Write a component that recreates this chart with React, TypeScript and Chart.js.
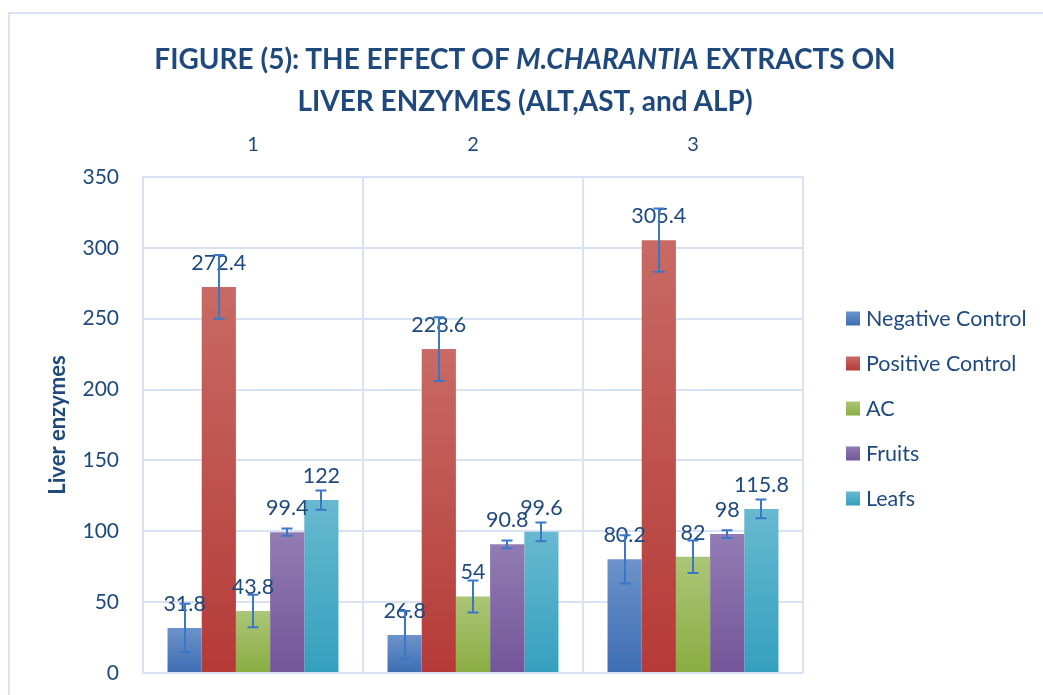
import React, { useEffect, useRef } from 'react';
import { Chart, registerables } from 'chart.js';

Chart.register(...registerables);

// ---------- data ----------
const categories = ['1', '2', '3'];
const seriesNames = ['Negative Control', 'Positive Control', 'AC', 'Fruits', 'Leafs'];
const negativeControl = [31.8, 26.8, 80.2];
const positiveControl = [272.4, 228.6, 305.4];
const acValues = [43.8, 54, 82];
const fruitsValues = [99.4, 90.8, 98];
const leafsValues = [122, 99.6, 115.8];
const negativeErr = [17, 17, 17];
const positiveErr = [22.5, 22.5, 22.3];
const acErr = [11.5, 11.3, 11.5];
const fruitsErr = [2.6, 2.7, 2.7];
const leafsErr = [6.8, 6.6, 6.6];
const yTicks = [0, 50, 100, 150, 200, 250, 300, 350];

// ---------- styles ----------
const TEXT = '#1F497D';
const GRID = '#D9E2F3';
const ERR = '#3B77C7';
const FONT = 'Lato, "Open Sans", sans-serif';
const colorsTop = ['#6C93CA', '#C86A65', '#ABC677', '#927CB3', '#68B9D0'];
const colorsBottom = ['#3D6DB3', '#B53A37', '#8AAD42', '#735599', '#34A0BE'];

const seriesValues = [negativeControl, positiveControl, acValues, fruitsValues, leafsValues];
const seriesErrors = [negativeErr, positiveErr, acErr, fruitsErr, leafsErr];

function makeGradient(chart: any, top: number, bottom: number, i: number) {
  const g = chart.ctx.createLinearGradient(0, top, 0, bottom);
  g.addColorStop(0, colorsTop[i]);
  g.addColorStop(1, colorsBottom[i]);
  return g;
}

const overlayPlugin = {
  id: 'overlay',
  afterDatasetsDraw(chart: any) {
    const { ctx } = chart;
    const y = chart.scales.y;
    ctx.save();
    // value labels
    ctx.font = `21.5px ${FONT}`;
    ctx.fillStyle = TEXT;
    ctx.textAlign = 'center';
    ctx.textBaseline = 'alphabetic';
    chart.data.datasets.forEach((ds: any, di: number) => {
      const meta = chart.getDatasetMeta(di);
      meta.data.forEach((bar: any, i: number) => {
        const v = ds.data[i];
        ctx.fillText(String(v), bar.x, y.getPixelForValue(v) - 17);
      });
    });
    // error bars
    ctx.strokeStyle = ERR;
    ctx.lineWidth = 2;
    chart.data.datasets.forEach((ds: any, di: number) => {
      const meta = chart.getDatasetMeta(di);
      const errs = seriesErrors[di];
      meta.data.forEach((bar: any, i: number) => {
        const v = ds.data[i];
        const e = errs[i];
        const yTop = y.getPixelForValue(v + e);
        const yBot = y.getPixelForValue(v - e);
        const x = Math.round(bar.x);
        ctx.beginPath();
        ctx.moveTo(x, yTop);
        ctx.lineTo(x, yBot);
        ctx.moveTo(x - 5.5, yTop);
        ctx.lineTo(x + 5.5, yTop);
        ctx.moveTo(x - 5.5, yBot);
        ctx.lineTo(x + 5.5, yBot);
        ctx.stroke();
      });
    });
    ctx.restore();
  },
  afterDraw(chart: any) {
    const { ctx } = chart;
    ctx.save();
    ctx.font = `21.5px ${FONT}`;
    ctx.textAlign = 'left';
    ctx.textBaseline = 'alphabetic';
    chart.data.datasets.forEach((ds: any, i: number) => {
      const base = 325.5 + i * 45;
      const top = base - 14;
      ctx.fillStyle = makeGradient(chart, top, top + 14, i);
      ctx.fillRect(846, top, 14, 14);
      ctx.fillStyle = TEXT;
      ctx.fillText(ds.label, 866, base);
    });
    ctx.restore();
  },
};

export default function App() {
  const canvasRef = useRef<HTMLCanvasElement | null>(null);

  useEffect(() => {
    const canvas = canvasRef.current;
    if (!canvas) return;
    const datasets = seriesNames.map((name, i) => ({
      label: name,
      data: seriesValues[i],
      backgroundColor: (c: any) => {
        const chart = c.chart;
        if (!chart.chartArea || c.type !== 'data' || !chart.scales.y) return colorsBottom[i];
        const ys = chart.scales.y;
        const top = ys.getPixelForValue(c.raw);
        const bottom = ys.getPixelForValue(0);
        if (!isFinite(top) || !isFinite(bottom) || bottom - top < 1) return colorsBottom[i];
        return makeGradient(chart, top, bottom, i);
      },
      borderWidth: 0,
      categoryPercentage: 0.777,
      barPercentage: 1,
    }));

    const chart = new Chart(canvas, {
      type: 'bar',
      data: { labels: categories, datasets },
      options: {
        responsive: false,
        animation: false,
        devicePixelRatio: 1,
        layout: { padding: { top: 117, right: 240, bottom: 22, left: 0 } },
        plugins: {
          legend: { display: false },
          title: { display: false },
          tooltip: { enabled: false },
        },
        scales: {
          x: {
            position: 'top',
            offset: true,
            grid: { color: GRID, lineWidth: 2, drawTicks: false, offset: true },
            border: { color: GRID, width: 2 },
            ticks: { color: TEXT, font: { family: FONT, size: 20 }, padding: 20 },
            afterFit: (s: any) => { s.height = 60; },
          },
          y: {
            min: yTicks[0],
            max: yTicks[yTicks.length - 1],
            ticks: {
              stepSize: yTicks[1] - yTicks[0],
              color: TEXT,
              font: { family: FONT, size: 21 },
              padding: 24,
            },
            grid: { color: GRID, lineWidth: 2, drawTicks: false },
            border: { color: GRID, width: 2 },
            title: {
              display: true,
              text: 'Liver enzymes',
              color: TEXT,
              font: { family: FONT, size: 22, weight: 'bold' },
              padding: { top: 45, bottom: 0 },
            },
            afterFit: (s: any) => {
              s.width = 143;
              s.paddingTop = 0;
              s.paddingBottom = 0;
            },
          },
        },
      },
      plugins: [overlayPlugin],
    } as any);
    return () => chart.destroy();
  }, []);

  const titleStyle: React.CSSProperties = {
    position: 'absolute',
    left: 0,
    width: 1050,
    textAlign: 'center',
    fontFamily: FONT,
    fontWeight: 700,
    fontSize: 28,
    lineHeight: '33.6px',
    color: TEXT,
    whiteSpace: 'nowrap',
  };

  return (
    <div style={{ position: 'absolute', left: 0, top: 0, width: 1043, height: 695, overflow: 'hidden', background: '#fff' }}>
      <div style={{ position: 'absolute', left: 8, top: 12, width: 1100, height: 800, border: `2px solid ${GRID}`, boxSizing: 'border-box' }} />
      <canvas ref={canvasRef} width={1043} height={695} style={{ position: 'absolute', left: 0, top: 0, width: 1043, height: 695 }} />
      <div style={{ ...titleStyle, top: 41.7 }}>
        FIGURE (5): THE EFFECT OF <i>M.CHARANTIA</i> EXTRACTS ON
      </div>
      <div style={{ ...titleStyle, top: 84.4 }}>LIVER ENZYMES (ALT,AST, and ALP)</div>
    </div>
  );
}
